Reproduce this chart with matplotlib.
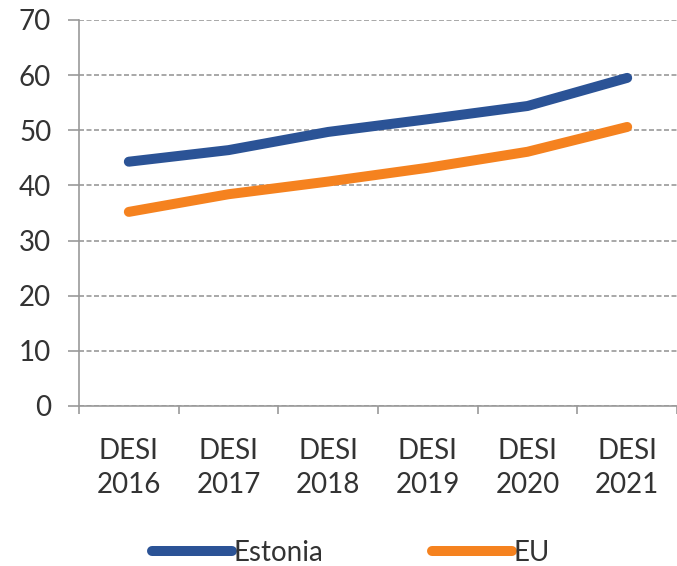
import matplotlib
matplotlib.use("Agg")
import matplotlib.pyplot as plt
from matplotlib.ticker import MultipleLocator, FixedLocator

categories = ["DESI\n2016", "DESI\n2017", "DESI\n2018", "DESI\n2019", "DESI\n2020", "DESI\n2021"]
estonia = [44.3, 46.4, 49.7, 52.0, 54.4, 59.5]
eu = [35.2, 38.4, 40.7, 43.2, 46.1, 50.6]

plt.rcParams['font.family'] = ['Lato', 'DejaVu Sans']

fig = plt.figure(figsize=(6.77, 5.66), dpi=100)
ax = fig.add_axes([0.1167, 0.2827, 0.8833, 0.682])

x = list(range(len(categories)))
ax.plot(x, estonia, color='#2B5396', lw=7.2, solid_capstyle='round', label='Estonia', zorder=3)
ax.plot(x, eu, color='#F5821F', lw=7.2, solid_capstyle='round', label='EU', zorder=3)

ax.set_xlim(-0.5, len(categories) - 0.5)
ax.set_ylim(0, 70)
ax.yaxis.set_major_locator(MultipleLocator(10))
ax.set_xticks(x)
ax.set_xticklabels(categories, linespacing=1.4)
ax.xaxis.set_minor_locator(FixedLocator([i - 0.5 for i in range(len(categories) + 1)]))

ax.tick_params(axis='x', which='major', length=0, pad=23, labelsize=20, labelcolor='#333333')
ax.tick_params(axis='x', which='minor', length=6, width=1.2, color='#999999', direction='out')
ax.tick_params(axis='y', length=8, width=1.2, color='#999999', pad=12, labelsize=20, labelcolor='#333333')

ax.grid(axis='y', color='#9a9a9a', lw=1.2, linestyle=(0, (3, 1.5)))
for s in ['top', 'right']:
    ax.spines[s].set_visible(False)
for s in ['left', 'bottom']:
    ax.spines[s].set_color('#999999')
    ax.spines[s].set_linewidth(1.2)

leg = fig.legend(loc='center', bbox_to_anchor=(0.518, 0.023), ncol=2, frameon=False,
                 fontsize=20, handlelength=2.9, handletextpad=0.05, columnspacing=3.9,
                 labelcolor='#333333')
for h in leg.get_lines():
    h.set_solid_capstyle('round')

fig.savefig('out.png', dpi=100)
